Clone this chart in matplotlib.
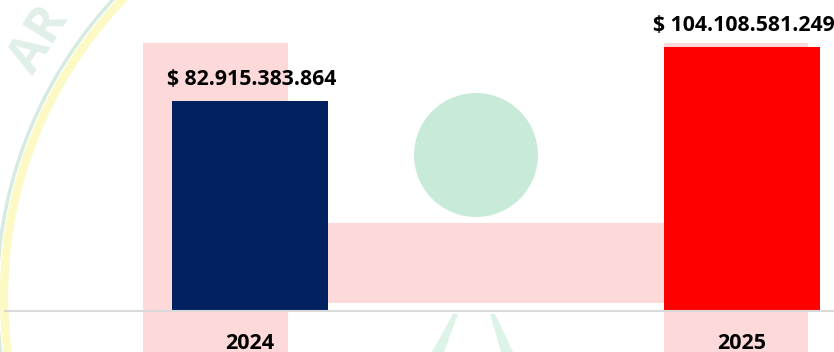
import matplotlib.pyplot as plt
from matplotlib.patches import Rectangle, Circle, Polygon, Arc

years = ['2024', '2025']
montos = [82915383864, 104108581249]
colores = ['#002060', '#FF0000']
etiquetas = ['$ 82.915.383.864', '$ 104.108.581.249']

plt.rcParams['font.family'] = ['Open Sans', 'DejaVu Sans']

fig = plt.figure(figsize=(8.34, 3.52), dpi=100)

# marca de agua del fondo (coordenadas en pixeles)
bg = fig.add_axes([0, 0, 1, 1], zorder=0)
bg.set_xlim(0, 834)
bg.set_ylim(352, 0)
bg.axis('off')
rosa = '#fdd9d9'
bg.add_patch(Rectangle((143, 43), 145, 320, color=rosa, lw=0))
bg.add_patch(Rectangle((664, 43), 144, 320, color=rosa, lw=0))
bg.add_patch(Rectangle((288, 223), 376, 80, color=rosa, lw=0))
bg.add_patch(Circle((476, 155), 62, color='#c8ebd9', lw=0))
bg.add_patch(Polygon([(453, 314), (458, 314), (444, 352), (432, 352)], color='#dcf3e7', lw=0))
bg.add_patch(Polygon([(490, 314), (495, 314), (513, 352), (501, 352)], color='#dcf3e7', lw=0))
bg.add_patch(Arc((434, 296), 2 * 430, 2 * 430, theta1=120, theta2=240,
                 color='#fcf9c4', lw=6))
bg.add_patch(Arc((434, 296), 2 * 437, 2 * 437, theta1=120, theta2=240,
                 color='#d5ebe2', lw=2.5))
bg.text(40, 40, 'AR', rotation=58, fontsize=36, fontweight='bold',
        color='#e0efe8', ha='center', va='center')

ax = fig.add_axes([0, 41 / 352, 1, 311 / 352], zorder=1)
ax.patch.set_alpha(0)

x = range(len(years))
barras = ax.bar(x, montos, width=0.317, color=colores, zorder=2)

for b, txt in zip(barras, etiquetas):
    ax.annotate(txt, (b.get_x() + b.get_width() / 2, b.get_height()),
                xytext=(1.5, 11.5), textcoords='offset points',
                ha='center', va='baseline', fontsize=15.3, fontweight='bold',
                color='black', annotation_clip=False)

ax.set_xlim(-250 / 492, 584 / 492)
ax.set_ylim(0, 122.6e9)
ax.set_xticks(list(x))
ax.set_xticklabels(years, fontsize=15.5, fontweight='bold')
ax.tick_params(axis='x', length=0, pad=16)
ax.set_yticks([])
for lado in ['top', 'right', 'left']:
    ax.spines[lado].set_visible(False)
ax.spines['bottom'].set_color('#d9d9d9')
ax.spines['bottom'].set_linewidth(1.5)
ax.spines['bottom'].set_bounds(-245 / 492, 584 / 492)

fig.savefig('out.png', dpi=100)
